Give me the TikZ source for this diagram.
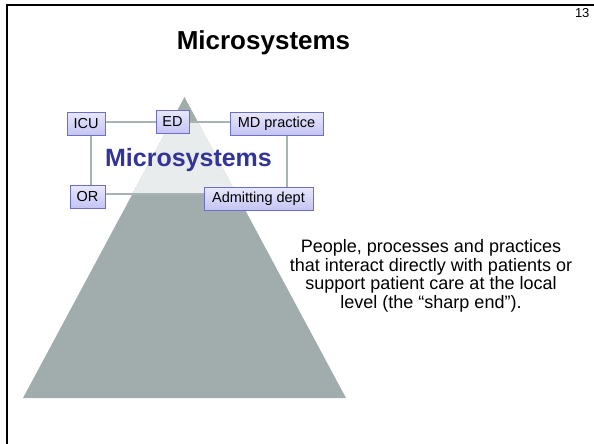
\documentclass[tikz,border=0pt]{standalone}
\usepackage{fontspec}
\setmainfont{Liberation Sans}
\usetikzlibrary{patterns.meta}
\definecolor{pyrgray}{RGB}{161,173,173}
\definecolor{linkgray}{RGB}{168,180,180}
\definecolor{heading}{RGB}{51,51,153}
\definecolor{boxedge}{RGB}{110,110,200}
\definecolor{boxtop}{RGB}{232,232,255}
\definecolor{boxbot}{RGB}{196,196,242}
\pgfdeclarelayer{back}
\pgfdeclarelayer{mid}
\pgfsetlayers{back,mid,main}
\tikzset{
  unit/.style={draw=boxedge, line width=0.9pt, top color=boxtop, bottom color=boxbot,
    minimum height=23pt, inner sep=0pt, font=\fontsize{14.5}{16}\selectfont},
  link/.style={draw=linkgray, line width=1.6pt},
  frame/.style={line width=2pt, black}
}
\begin{document}
\begin{tikzpicture}[x=1pt, y=-1pt]
\useasboundingbox (0,0) rectangle (594,444);

% slide frame
\draw[frame] (7,5) -- (594,5);
\draw[frame] (7,4) -- (7,444);

% title and slide number
\node[anchor=base, font=\fontsize{26}{30}\selectfont\bfseries] (title) at (263.5,50) {Microsystems};
\node[anchor=base east, font=\fontsize{13}{15}\selectfont] (num) at (593,18) {13};

% pyramid with its stippled band
\begin{pgfonlayer}{back}
  \coordinate (apex) at (184.5,97);
  \coordinate (bl) at (23,398);
  \coordinate (br) at (346,398);
  \fill[pyrgray] (apex) -- (br) -- (bl) -- cycle;
  \begin{scope}
    \clip (apex) -- (br) -- (bl) -- cycle;
    \fill[white] (60,122) rectangle (320,194);
    \fill[pattern={Dots[distance=2pt, radius=0.55pt]}, pattern color=pyrgray]
      (60,122) rectangle (320,194);
  \end{scope}
\end{pgfonlayer}

% microsystem units
\node[unit, minimum width=38pt] (icu) at (86,123.5) {ICU};
\node[unit, minimum width=33pt] (ed) at (172.5,121.5) {ED};
\node[unit, minimum width=93pt] (md) at (276.5,123.5) {MD practice};
\node[unit, minimum width=35pt] (or) at (87.5,196.5) {OR};
\node[unit, minimum width=109pt] (adm) at (258.5,198.5) {Admitting dept};

\node[anchor=base, text=heading, font=\fontsize{25}{30}\selectfont\bfseries] (label) at (188.5,166) {Microsystems};

% links between the units
\coordinate (lx) at (91,0);
\coordinate (rx) at (287,0);
\coordinate (ty) at (0,122);
\coordinate (by) at (0,194);
\begin{pgfonlayer}{mid}
  \draw[link] (icu.east |- ty) -- (ed.west |- ty);
  \draw[link] (ed.east |- ty) -- (md.west |- ty);
  \draw[link] (icu.south -| lx) -- (or.north -| lx);
  \draw[link] (md.south -| rx) -- (adm.north -| rx);
  \draw[link] (or.east |- by) -- (adm.west |- by);
\end{pgfonlayer}

% description
\node[anchor=north, align=center, inner sep=0pt,
      font=\fontsize{18}{18.8}\selectfont] (desc) at (431,239)
  {People, processes and practices\\
   that interact directly with patients or\\
   support patient care at the local\\
   level (the “sharp end”).};
\end{tikzpicture}
\end{document}
